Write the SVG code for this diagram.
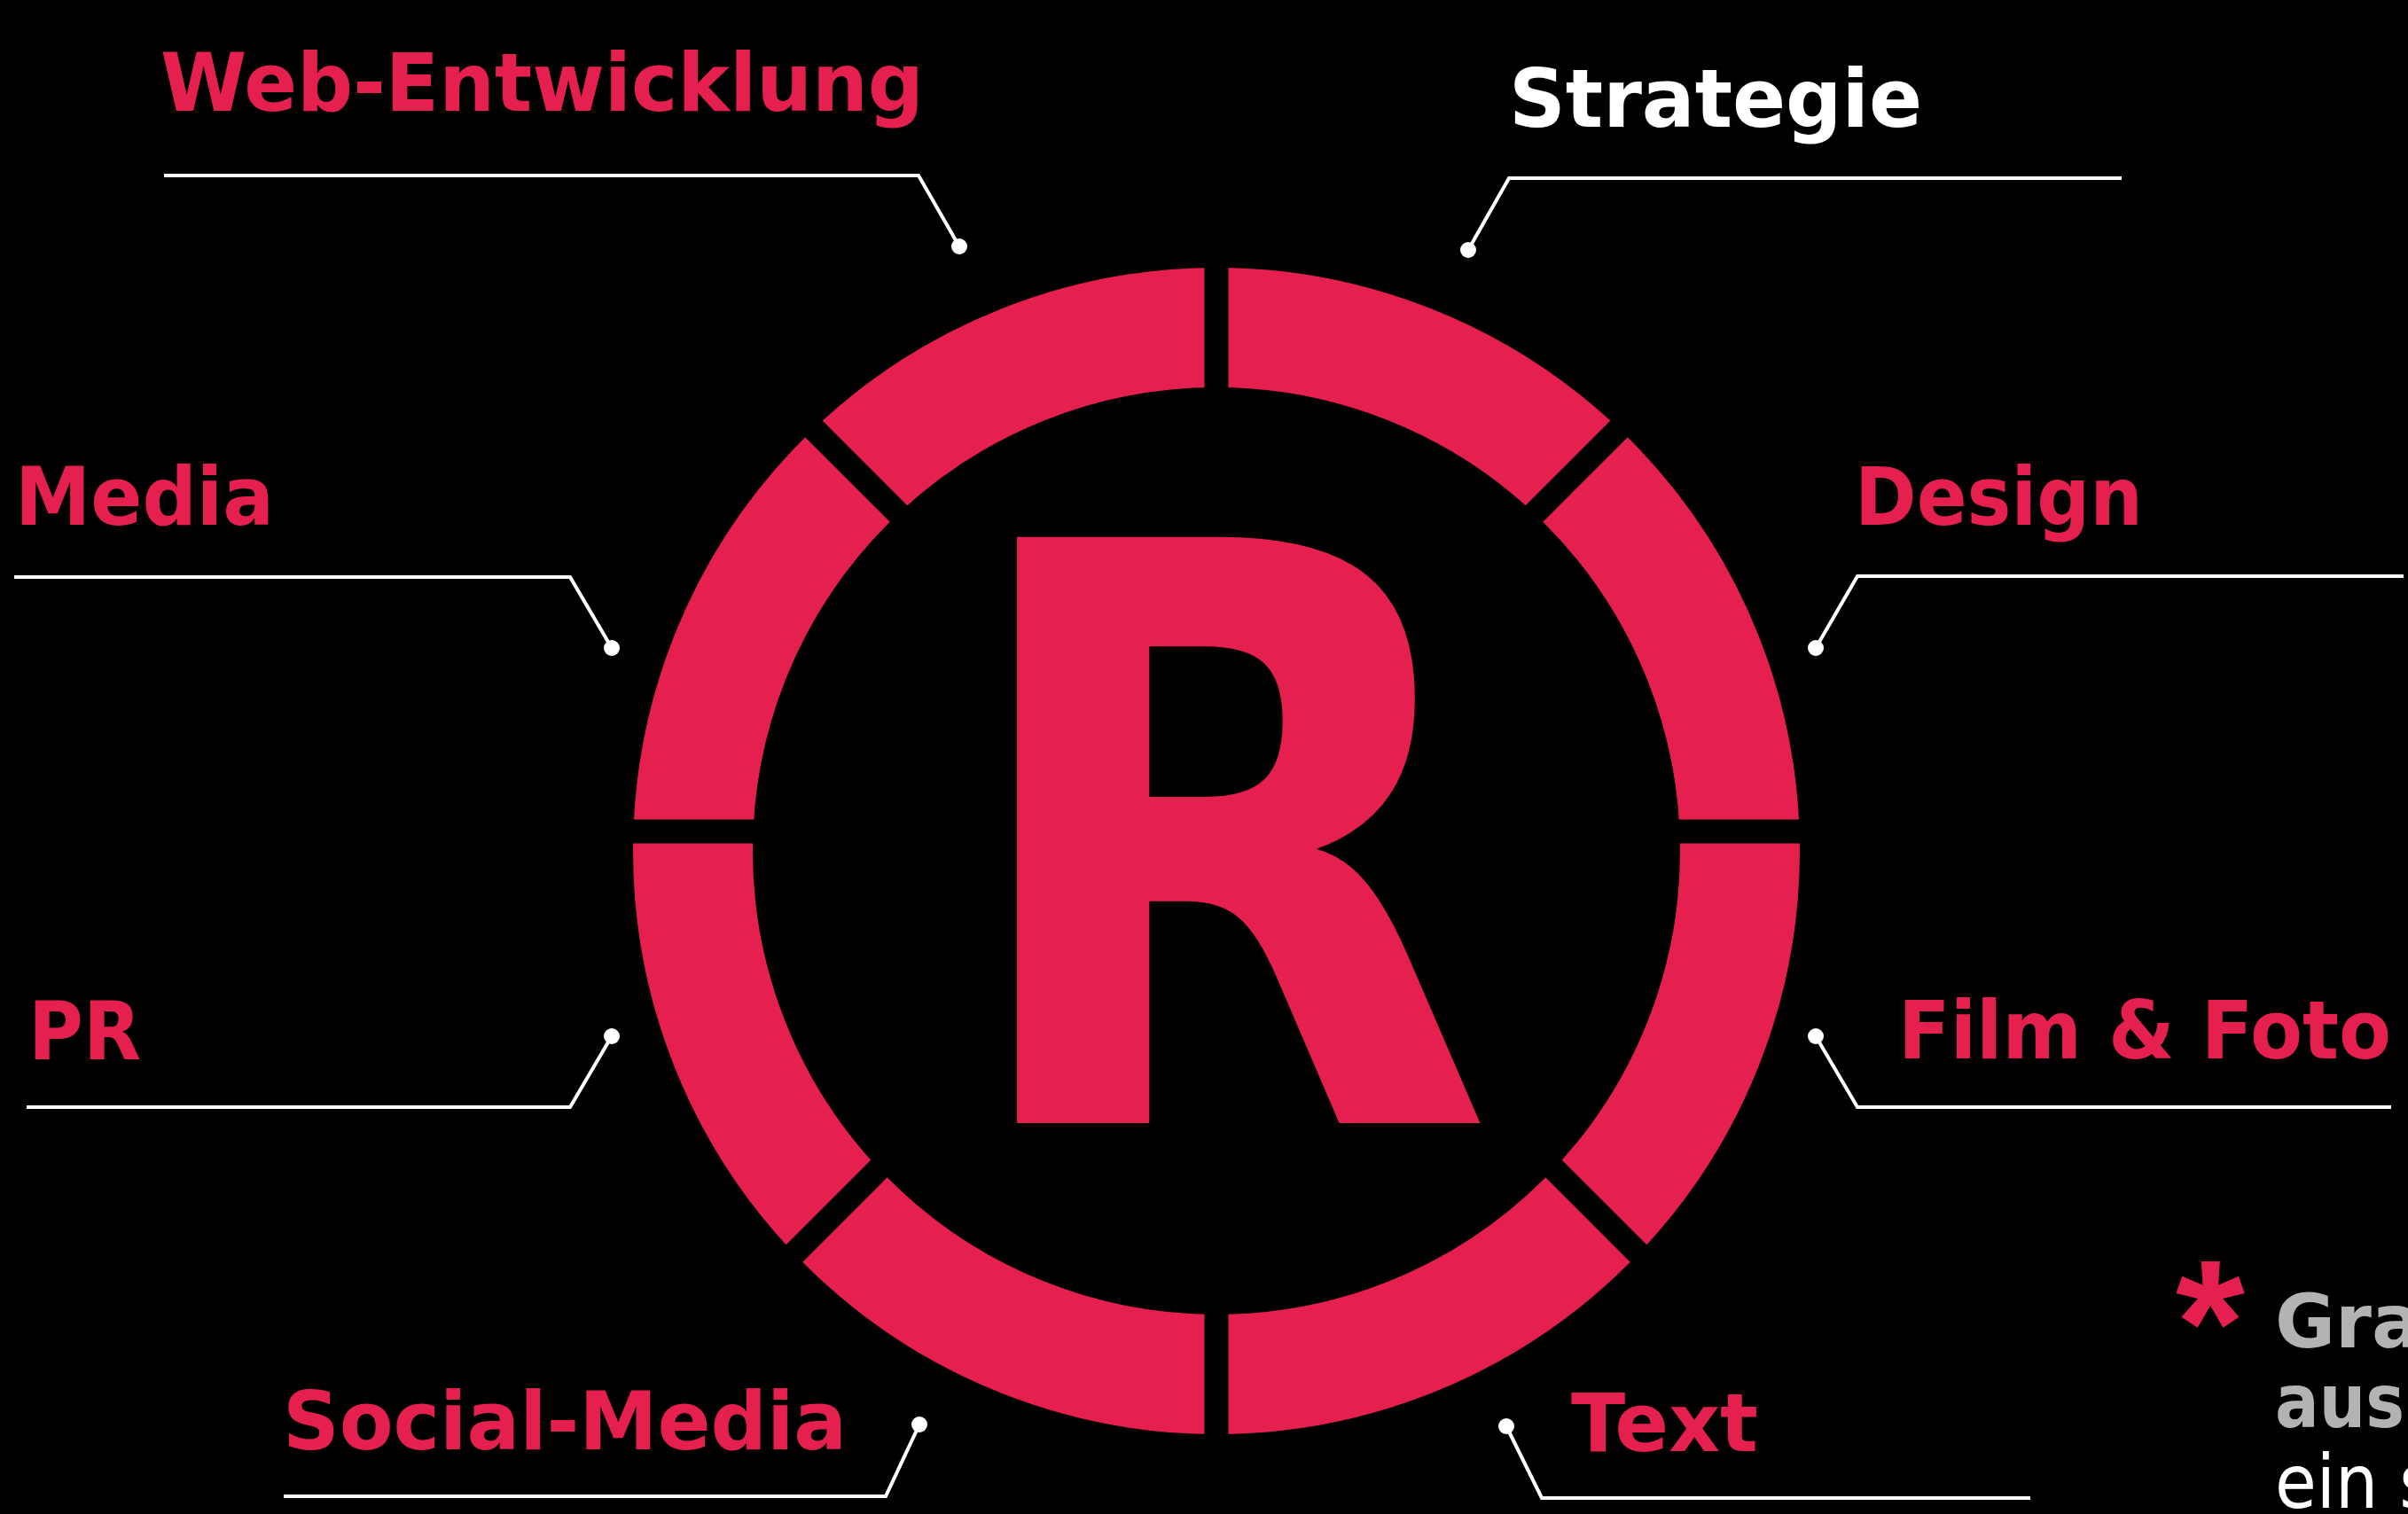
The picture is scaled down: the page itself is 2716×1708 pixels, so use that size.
<svg xmlns="http://www.w3.org/2000/svg" width="2716" height="1708" viewBox="0 0 2716 1708">
<style>
.lbl{font-family:"DejaVu Sans","Liberation Sans",sans-serif;font-weight:700;font-size:90px;fill:#E5204F}
.wht{fill:#FFFFFF}
.conn{fill:none;stroke:#FFFFFF;stroke-width:4;stroke-linejoin:miter}
.dot{fill:#FFFFFF}
.gap{stroke:#000000;stroke-width:27}
</style>
<rect x="0" y="0" width="2716" height="1708" fill="#000000"/>
<g id="ring">
<circle cx="1372" cy="960" r="590.5" fill="none" stroke="#E5204F" stroke-width="135"/>
<g class="gap">
<line x1="1852" y1="938" x2="2080" y2="938"/>
<line x1="892" y1="938" x2="664" y2="938"/>
<line x1="1372" y1="458" x2="1372" y2="230"/>
<line x1="1372" y1="1418" x2="1372" y2="1660"/>
<line x1="1711.4" y1="598.6" x2="1872.6" y2="437.4"/>
<line x1="1032.6" y1="598.6" x2="871.4" y2="437.4"/>
<line x1="1711.4" y1="1277.4" x2="1872.6" y2="1438.6"/>
<line x1="1032.6" y1="1277.4" x2="871.4" y2="1438.6"/>
</g>
</g>
<g id="logo-r">
<text x="1064" y="1267" transform="translate(1146 0) scale(0.875 1) translate(-1146 0)" font-family="DejaVu Sans, sans-serif" font-weight="700" font-size="907" fill="#E5204F">R</text>
</g>
<g id="connectors">
<polyline class="conn" points="185,198 1036,198 1082,278"/>
<polyline class="conn" points="1656,282 1702,201 2393,201"/>
<polyline class="conn" points="16,651 643,651 690,731"/>
<polyline class="conn" points="2048,731 2095,650 2711,650"/>
<polyline class="conn" points="690,1169 643,1249 30,1249"/>
<polyline class="conn" points="2048,1169 2095,1249 2697,1249"/>
<polyline class="conn" points="1037,1607 999,1688 320,1688"/>
<polyline class="conn" points="1699,1609 1739,1690 2290,1690"/>
<circle class="dot" cx="1082" cy="278" r="9"/>
<circle class="dot" cx="1656" cy="282" r="9"/>
<circle class="dot" cx="690" cy="731" r="9"/>
<circle class="dot" cx="2048" cy="731" r="9"/>
<circle class="dot" cx="690" cy="1169" r="9"/>
<circle class="dot" cx="2048" cy="1169" r="9"/>
<circle class="dot" cx="1037" cy="1607" r="9"/>
<circle class="dot" cx="1699" cy="1609" r="9"/>
</g>
<g id="web-entwicklung"><text class="lbl" x="181" y="125" textLength="861" lengthAdjust="spacingAndGlyphs">Web-Entwicklung</text></g>
<g id="strategie"><text class="lbl wht" x="1702" y="143" textLength="466" lengthAdjust="spacingAndGlyphs">Strategie</text></g>
<g id="media"><text class="lbl" x="17" y="592" textLength="292" lengthAdjust="spacingAndGlyphs">Media</text></g>
<g id="design"><text class="lbl" x="2092" y="592" textLength="325" lengthAdjust="spacingAndGlyphs">Design</text></g>
<g id="pr"><text class="lbl" x="32" y="1195" textLength="127" lengthAdjust="spacingAndGlyphs">PR</text></g>
<g id="film-foto"><text class="lbl" x="2141" y="1194" textLength="556" lengthAdjust="spacingAndGlyphs">Film &amp; Foto</text></g>
<g id="social-media"><text class="lbl" x="319" y="1635" textLength="636" lengthAdjust="spacingAndGlyphs">Social-Media</text></g>
<g id="text"><text class="lbl" x="1772" y="1637" textLength="211" lengthAdjust="spacingAndGlyphs">Text</text></g>
<g id="note">
<text x="2493" y="1561" text-anchor="middle" font-family="Liberation Sans, sans-serif" font-weight="700" font-size="200" fill="#E5204F">*</text>
<text x="2566" y="1520" font-family="DejaVu Sans, sans-serif" font-weight="700" font-size="84" fill="#B1B3B5" textLength="165" lengthAdjust="spacingAndGlyphs">Gra</text>
<text x="2566" y="1610" font-family="DejaVu Sans, sans-serif" font-weight="700" font-size="84" fill="#B1B3B5" textLength="146" lengthAdjust="spacingAndGlyphs">aus</text>
<text x="2566" y="1701" font-family="DejaVu Sans, sans-serif" font-size="84" fill="#FFFFFF" textLength="180" lengthAdjust="spacingAndGlyphs">ein s</text>
</g>
</svg>
